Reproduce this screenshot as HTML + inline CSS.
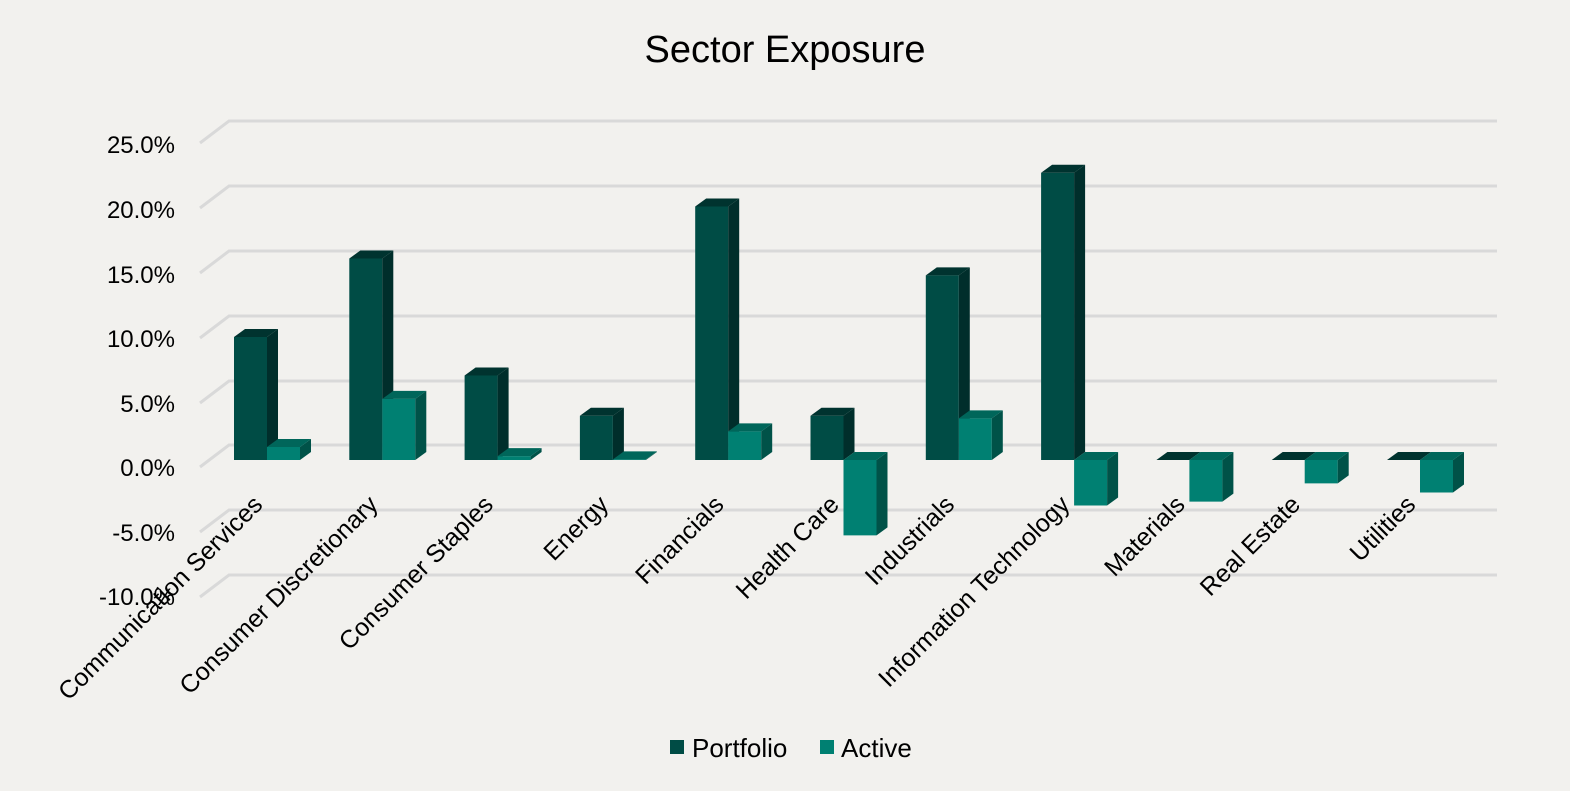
<!DOCTYPE html>
<html><head><meta charset="utf-8"><style>
html,body{margin:0;padding:0;background:#F2F1EE;}
svg{display:block;font-family:"Liberation Sans",sans-serif;}
</style></head><body>
<svg width="1570" height="791" viewBox="0 0 1570 791" xmlns="http://www.w3.org/2000/svg">
<rect width="1570" height="791" fill="#F2F1EE"/>
<text x="785" y="62" font-size="38" text-anchor="middle" fill="#000">Sector Exposure</text>
<g stroke="#D9D9D9" stroke-width="3" fill="none">
<polyline points="200,143 229,121 1497,121"/>
<polyline points="200,208 229,186 1497,186"/>
<polyline points="200,273 229,251 1497,251"/>
<polyline points="200,338 229,316 1497,316"/>
<polyline points="200,403 229,381 1497,381"/>
<polyline points="200,467 229,445 1497,445"/>
<polyline points="200,532 229,510 1497,510"/>
<polyline points="200,597 229,575 1497,575"/>
</g>
<g font-size="24" text-anchor="end" fill="#000">
<text x="175" y="153">25.0%</text>
<text x="175" y="218">20.0%</text>
<text x="175" y="283">15.0%</text>
<text x="175" y="347">10.0%</text>
<text x="175" y="412">5.0%</text>
<text x="175" y="476">0.0%</text>
<text x="175" y="541">-5.0%</text>
<text x="175" y="605">-10.0%</text>
</g>
<g id="bars"></g>
<g id="labels" font-size="25" text-anchor="end" fill="#000"></g>
<rect x="670" y="740" width="14" height="14" fill="#004C45"/>
<text x="692" y="757" font-size="26">Portfolio</text>
<rect x="820" y="740" width="14" height="14" fill="#008072"/>
<text x="841" y="757" font-size="26">Active</text>
<script>
var cats=["Communication Services","Consumer Discretionary","Consumer Staples","Energy","Financials","Health Care","Industrials","Information Technology","Materials","Real Estate","Utilities"];
var port=[9.46,15.5,6.5,3.4,19.5,3.4,14.2,22.1,0,0,0];
var act=[1.0,4.7,0.3,0.05,2.2,-5.8,3.2,-3.5,-3.2,-1.8,-2.5];
var ns="http://www.w3.org/2000/svg";
var g=document.getElementById("bars"),lg=document.getElementById("labels");
function poly(pts,fill){var p=document.createElementNS(ns,"polygon");p.setAttribute("points",pts.map(function(a){return a.join(",")}).join(" "));p.setAttribute("fill",fill);g.appendChild(p);}
function bar(x,v,cf,cs,ct){var w=33,dx=11,dy=8,y0=460,y1=460-v*13;var top=Math.min(y0,y1),bot=Math.max(y0,y1);
 poly([[x,top],[x+w,top],[x+w,bot],[x,bot]],cf);
 poly([[x+w,top],[x+w+dx,top-dy],[x+w+dx,bot-dy],[x+w,bot]],cs);
 var ty=(v>=0)?y1:y0;
 poly([[x,ty],[x+dx,ty-dy],[x+w+dx,ty-dy],[x+w,ty]],ct);}
for(var i=0;i<11;i++){var x=234+i*115.3;
 bar(x,port[i],"#004C45","#002E2B","#00332F");
 bar(x+33,act[i],"#008072","#005248","#00665A");
 var t=document.createElementNS(ns,"text");var cx=x+30,cy=506;
 t.setAttribute("x",cx);t.setAttribute("y",cy);t.setAttribute("transform","rotate(-45 "+cx+" "+cy+")");t.textContent=cats[i];lg.appendChild(t);}
</script>
</svg>
</body></html>
